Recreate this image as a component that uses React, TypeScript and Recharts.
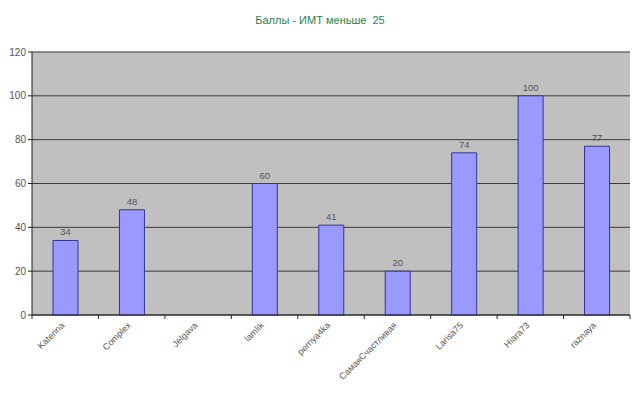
import React from "react";
import { BarChart, Bar, XAxis, YAxis, CartesianGrid, LabelList, ReferenceLine } from "recharts";

const names = ["Katerina", "Complex", "Jelgava", "lamlik", "pernya4ka", "СамаяСчастливая", "Larisa75", "Hiara73", "raznaya"];
const scores: (number | null)[] = [34, 48, null, 60, 41, 20, 74, 100, 77];
const yTicks = [0, 20, 40, 60, 80, 100, 120];

const data = names.map((n, i) => ({ name: n, value: scores[i] }));

const XTick = (props: any) => {
  const { x, y, payload, index } = props;
  const half = payload && payload.offset ? payload.offset : 598 / 9 / 2;
  const tx = x - 3;
  return (
    <g>
      <line x1={x + half} y1={y - 8} x2={x + half} y2={y - 4} stroke="#222" />
      {index === 0 ? <line x1={x - half} y1={y - 8} x2={x - half} y2={y - 4} stroke="#222" /> : null}
      <text
        x={tx}
        y={y}
        transform={`rotate(-45 ${tx} ${y})`}
        textAnchor="end"
        fontSize={9}
        fill="#555"
        fontFamily="Liberation Sans, Arial, sans-serif"
        dy={4}
      >
        {payload.value}
      </text>
    </g>
  );
};

export default function App() {
  return (
    <div style={{ position: "absolute", left: 0, top: 0, width: 640, height: 393, background: "#fff" }}>
      <div
        style={{
          position: "absolute",
          top: 14,
          left: 0,
          width: 640,
          textAlign: "center",
          fontFamily: "Liberation Sans, Arial, sans-serif",
          fontSize: 11,
          color: "#1E7F50",
        }}
      >
        Баллы - ИМТ меньше&nbsp; 25
      </div>
      <BarChart
        width={640}
        height={393}
        data={data}
        margin={{ top: 52, right: 10, bottom: 8, left: 0 }}
        barSize={25}
      >
        <CartesianGrid vertical={false} stroke="#3a3a3a" fill="#C0C0C0" fillOpacity={1} />
        <ReferenceLine y={120} stroke="#8a8a8a" />
        <XAxis
          dataKey="name"
          interval={0}
          height={70}
          tickLine={false}
          axisLine={{ stroke: "#222" }}
          tick={<XTick />}
        />
        <YAxis
          width={32}
          domain={[0, 120]}
          ticks={yTicks}
          tickSize={4}
          tickLine={{ stroke: "#222" }}
          axisLine={{ stroke: "#222" }}
          tick={{ fontSize: 10, fill: "#555", fontFamily: "Liberation Sans, Arial, sans-serif" }}
        />
        <YAxis
          yAxisId="r"
          orientation="right"
          width={0}
          domain={[0, 120]}
          tick={false}
          tickLine={false}
          axisLine={{ stroke: "#8a8a8a" }}
        />
        <Bar dataKey="value" fill="#9999FF" stroke="#333399" strokeWidth={1} isAnimationActive={false}>
          <LabelList
            dataKey="value"
            position="top"
            offset={5}
            fontSize={9.5}
            fill="#555"
            fontFamily="Liberation Sans, Arial, sans-serif"
          />
        </Bar>
      </BarChart>
    </div>
  );
}
